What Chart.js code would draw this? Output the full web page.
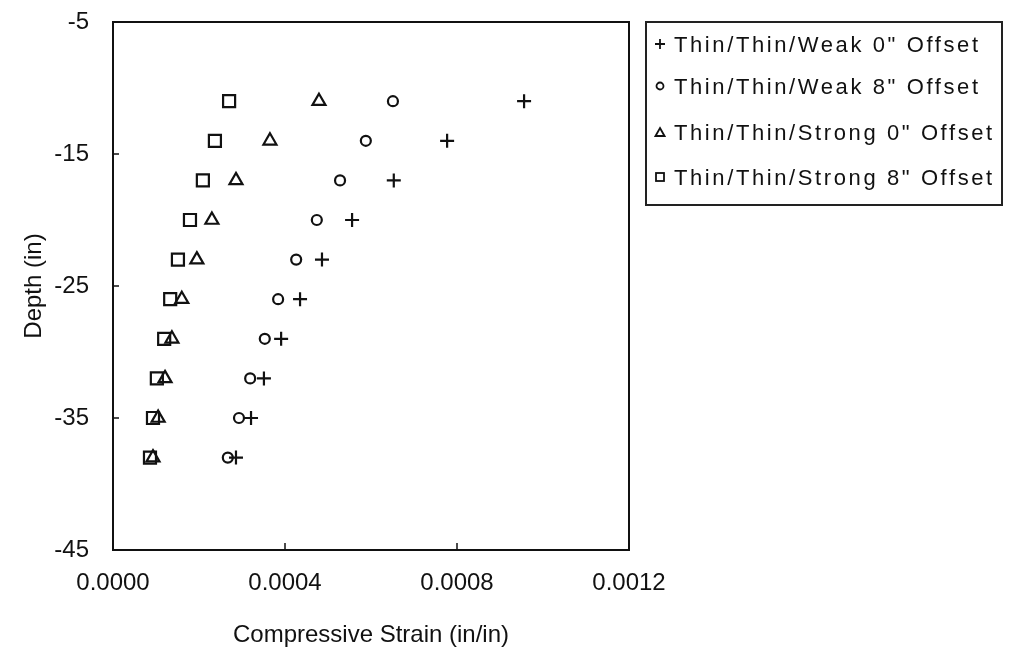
<!DOCTYPE html>
<html>
<head>
<meta charset="utf-8">
<script src="https://cdn.jsdelivr.net/npm/chart.js@4.4.0/dist/chart.umd.min.js"></script>
<style>
  body { margin: 0; background: #fff; }
  #wrap { position: relative; width: 1016px; height: 660px; }
  #legend {
    position: absolute; left: 645px; top: 21px; width: 354px; height: 181px;
    border: 2px solid #222; font-family: "Liberation Sans", Arial, sans-serif;
    font-size: 22px; letter-spacing: 2.6px; color: #111; box-sizing: content-box;
  }
  .item { position: absolute; left: 7px; height: 26px; line-height: 26px; white-space: nowrap; }
  .item svg { vertical-align: middle; margin-right: 8px; position: relative; top: -2px; }
</style>
</head>
<body>
<div id="wrap">
  <canvas id="chart" width="1016" height="660"></canvas>
  <div id="legend"></div>
</div>
<script>
// profundidades (in)
const depths = [-11, -14, -17, -20, -23, -26, -29, -32, -35, -38];

// deformação de compressão (in/in)
const weak0 = [0.000956, 0.000777, 0.000653, 0.000556, 0.000486, 0.000435, 0.000391, 0.000351, 0.000321, 0.000286];
const weak8 = [0.000651, 0.000588, 0.000528, 0.000474, 0.000426, 0.000384, 0.000353, 0.000319, 0.000293, 0.000267];
const strong0 = [0.000479, 0.000365, 0.000286, 0.000230, 0.000195, 0.000160, 0.000137, 0.000121, 0.000105, 0.000093];
const strong8 = [0.000270, 0.000237, 0.000209, 0.000179, 0.000151, 0.000133, 0.000119, 0.000102, 0.000093, 0.000086];

const seriesNames = ['Thin/Thin/Weak 0" Offset', 'Thin/Thin/Weak 8" Offset', 'Thin/Thin/Strong 0" Offset', 'Thin/Thin/Strong 8" Offset'];
const xTicks = [0, 0.0004, 0.0008, 0.0012];
const yTicks = [-45, -35, -25, -15, -5];

const FONT = '"Liberation Sans", Arial, sans-serif';
const INK = '#111';

function toPoints(xs) {
    return xs.map((x, i) => ({ x: x, y: depths[i] }));
}

const styles = [
    { pointStyle: 'cross', radius: 7 },
    { pointStyle: 'circle', radius: 5 },
    { pointStyle: 'triangle', radius: 7.5 },
    { pointStyle: 'rect', radius: 8.5 }
];
const seriesData = [weak0, weak8, strong0, strong8];

const datasets = seriesData.map((d, i) => ({
    label: seriesNames[i],
    data: toPoints(d),
    showLine: false,
    pointStyle: styles[i].pointStyle,
    pointRadius: styles[i].radius,
    pointBorderWidth: 2.2,
    pointBorderColor: INK,
    pointBackgroundColor: 'rgba(0,0,0,0)'
}));

// moldura + marcas de escala para dentro
const framePlugin = {
    id: 'frame',
    afterDraw(chart) {
        const ctx = chart.ctx;
        const a = chart.chartArea;
        const xs = chart.scales.x, ys = chart.scales.y;
        ctx.save();
        ctx.strokeStyle = INK;
        ctx.lineWidth = 2;
        ctx.strokeRect(a.left, a.top, a.right - a.left, a.bottom - a.top);
        ctx.lineWidth = 1.5;
        ctx.beginPath();
        yTicks.forEach(v => {
            const py = ys.getPixelForValue(v);
            ctx.moveTo(a.left, py);
            ctx.lineTo(a.left + 6, py);
        });
        xTicks.forEach(v => {
            const px = xs.getPixelForValue(v);
            ctx.moveTo(px, a.bottom);
            ctx.lineTo(px, a.bottom - 7);
        });
        ctx.stroke();
        ctx.restore();
    }
};

const chart = new Chart(document.getElementById('chart').getContext('2d'), {
    type: 'scatter',
    data: { datasets: datasets },
    options: {
        responsive: false,
        animation: false,
        layout: { padding: { left: 0, top: 22, right: 387, bottom: 0 } },
        plugins: { legend: { display: false }, tooltip: { enabled: false } },
        scales: {
            x: {
                type: 'linear', min: 0, max: 0.0012,
                afterBuildTicks: s => { s.ticks = xTicks.map(v => ({ value: v })); },
                afterFit: s => { s.height = 110; s.paddingLeft = 0; s.paddingRight = 0; },
                grid: { display: false, drawTicks: false },
                border: { display: false },
                ticks: {
                    padding: 19, color: INK, font: { family: FONT, size: 24 },
                    callback: v => v.toFixed(4)
                },
                title: {
                    display: true, text: 'Compressive Strain (in/in)', color: INK,
                    font: { family: FONT, size: 24 }, padding: { top: 0, bottom: 10 }
                }
            },
            y: {
                type: 'linear', min: -45, max: -5,
                afterBuildTicks: s => { s.ticks = yTicks.map(v => ({ value: v })); },
                afterFit: s => { s.width = 113; s.paddingTop = 0; s.paddingBottom = 0; },
                grid: { display: false, drawTicks: false },
                border: { display: false },
                ticks: { padding: 24, color: INK, font: { family: FONT, size: 24 } },
                title: {
                    display: true, text: 'Depth (in)', color: INK,
                    font: { family: FONT, size: 24 }, padding: { top: 20, bottom: 0 }
                }
            }
        }
    },
    plugins: [framePlugin]
});

// legenda em HTML
function markerSvg(style) {
    const c = 'stroke="' + INK + '" stroke-width="1.8" fill="none"';
    if (style === 'cross') return '<svg width="12" height="12"><path d="M1 6H11M6 1V11" ' + c + '/></svg>';
    if (style === 'circle') return '<svg width="12" height="12"><circle cx="6" cy="6" r="3.5" ' + c + '/></svg>';
    if (style === 'triangle') return '<svg width="12" height="12"><path d="M6 2L10.5 10H1.5Z" ' + c + '/></svg>';
    return '<svg width="12" height="12"><rect x="2" y="2" width="8" height="8" ' + c + '/></svg>';
}
const legendTops = [9, 51, 97, 142];
const legend = document.getElementById('legend');
legend.innerHTML = seriesNames.map((n, i) =>
    '<div class="item" style="top:' + legendTops[i] + 'px">' + markerSvg(styles[i].pointStyle) + n + '</div>'
).join('');
</script>
</body>
</html>
